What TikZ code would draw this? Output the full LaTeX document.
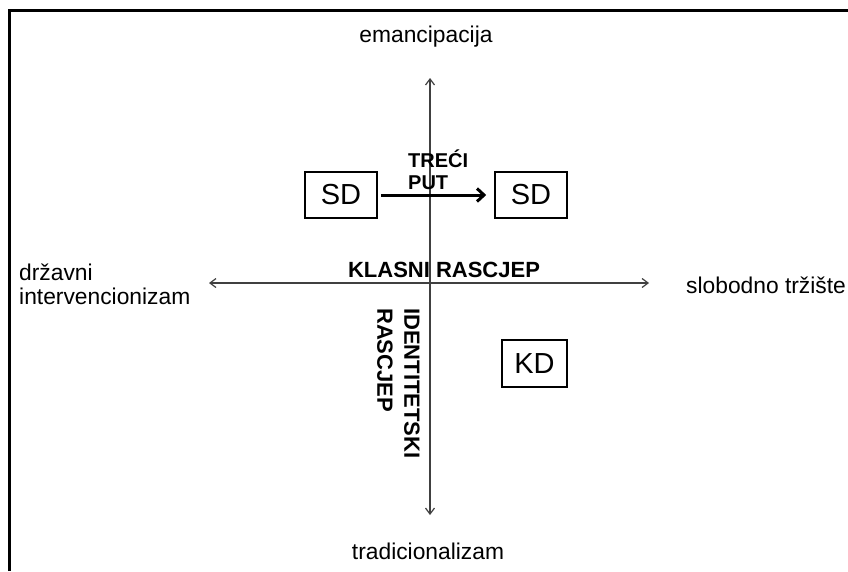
\documentclass[tikz,border=0pt]{standalone}
\usepackage{fontspec}
\setmainfont{Liberation Sans}
\usetikzlibrary{arrows.meta}
\begin{document}
\begin{tikzpicture}[x=1pt,y=-1pt,
  lbl/.style={inner sep=0pt,font=\fontsize{22.8}{26}\selectfont},
  bld/.style={inner sep=0pt,font=\bfseries\fontsize{22}{27}\selectfont},
  party/.style={draw,line width=1.6pt,minimum width=72pt,minimum height=46pt,inner sep=0pt,font=\fontsize{29}{32}\selectfont},
  axis/.style={line width=1.2pt,draw=black!75,{Straight Barb[length=6pt,width=9pt]}-{Straight Barb[length=6pt,width=9pt]}}]
\useasboundingbox (0,0) rectangle (848,571);
\fill[white] (0,0) rectangle (848,571);
% frame
\draw[line width=3pt] (9,571) -- (9,10) -- (848,10);
% axes
\coordinate (vt) at (430,78);
\coordinate (vb) at (430,515);
\coordinate (hl) at (209,283);
\coordinate (hr) at (649,283);
\draw[axis] (vb) -- (vt);
\draw[axis] (hl) -- (hr);
% axis labels
\node[lbl,anchor=base] (em) at (426,42) {emancipacija};
\node[lbl,anchor=base] (tr) at (428,559) {tradicionalizam};
\node[lbl,anchor=base west] (di1) at (19,280) {državni};
\node[lbl,anchor=base west] (di2) at (19,304) {intervencionizam};
\node[lbl,anchor=base west] (st) at (686,293) {slobodno tržište};
% parties
\node[party] (sd1) at (341,195) {SD};
\node[party] (sd2) at (531,195) {SD};
\node[party,minimum width=65pt,minimum height=47pt] (kd) at (534.5,363.5) {KD};
\draw[line width=3pt,-{Straight Barb[length=7pt,width=13pt,line width=3pt]},shorten <=3pt,shorten >=8pt] (sd1) -- (sd2);
% bold labels
\node[bld,anchor=base west,font=\bfseries\fontsize{20}{22}\selectfont] (treci) at (408,167) {TREĆI};
\node[bld,anchor=base west,font=\bfseries\fontsize{20}{22}\selectfont] (put) at (408,189) {PUT};
\node[bld,anchor=base] (klasni) at (444,277) {KLASNI RASCJEP};
\node[bld,anchor=north west,align=left,rotate=-90] (ident) at (420,308) {IDENTITETSKI\\RASCJEP};
\end{tikzpicture}
\end{document}
